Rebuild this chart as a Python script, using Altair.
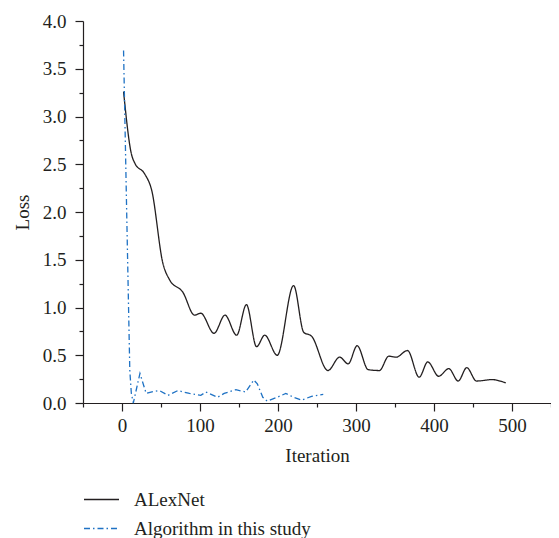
import altair as alt
import pandas as pd

# AlexNet loss curve (smooth)
alex_x = [2, 12, 16.5, 29, 38, 52.5, 61, 78, 93, 101, 118, 132, 147, 159.5, 172.5, 183, 199,
          220, 233, 243, 264, 279, 290, 301.5, 315.5, 330, 342, 351.5, 366, 381, 392, 406,
          419, 431, 442, 454.5, 474.5, 492]
alex_y = [3.26, 2.61, 2.51, 2.40, 2.23, 1.46, 1.29, 1.16, 0.92, 0.94, 0.73, 0.92, 0.71, 1.03,
          0.59, 0.71, 0.50, 1.23, 0.74, 0.70, 0.34, 0.48, 0.41, 0.60, 0.35, 0.34, 0.49, 0.48,
          0.55, 0.27, 0.43, 0.28, 0.36, 0.23, 0.37, 0.23, 0.245, 0.21]

# Proposed algorithm loss curve
algo_x = [2, 6, 10, 12, 14.5, 23, 31, 40, 48, 59, 71.5, 86.5, 101, 107.5, 122.5, 131, 146,
          158.5, 169, 173.5, 180.5, 186, 199, 210, 220, 230.5, 243, 258]
algo_y = [3.69, 2.0, 0.34, 0.10, 0.0, 0.31, 0.10, 0.12, 0.13, 0.08, 0.13, 0.10, 0.08, 0.115,
          0.06, 0.10, 0.14, 0.115, 0.24, 0.20, 0.06, 0.02, 0.06, 0.10, 0.06, 0.03, 0.07, 0.09]

series_names = ["ALexNet", "Algorithm in this study"]
series_colors = ["#231f20", "#1f72c4"]
series_dash = [[1, 0], [6, 3, 1.5, 3]]

y_ticks = [i * 0.25 for i in range(17)]
x_ticks = [-50 + 50 * i for i in range(13)]

df_alex = pd.DataFrame({"Iteration": alex_x, "Loss": alex_y, "series": series_names[0]})
df_algo = pd.DataFrame({"Iteration": algo_x, "Loss": algo_y, "series": series_names[1]})

FONT = "Liberation Serif"

x_enc = alt.X(
    "Iteration:Q",
    scale=alt.Scale(domain=[-50, 550], nice=False, zero=False),
    axis=alt.Axis(
        title="Iteration",
        values=x_ticks,
        labelExpr="datum.value % 100 === 0 ? datum.label : ''",
        tickSize={"condition": {"test": "datum.value % 100 === 0", "value": 8}, "value": 4},
        labelPadding=5,
        titlePadding=11,
        grid=False,
    ),
)
y_enc = alt.Y(
    "Loss:Q",
    scale=alt.Scale(domain=[0, 4], nice=False),
    axis=alt.Axis(
        title="Loss",
        values=y_ticks,
        labelExpr="datum.value % 0.5 === 0 ? format(datum.value, '.1f') : ''",
        tickSize={"condition": {"test": "datum.value % 0.5 === 0", "value": 8}, "value": 4},
        labelPadding=9,
        titlePadding=10,
        grid=False,
    ),
)

color_scale = alt.Scale(domain=series_names, range=series_colors)
dash_scale = alt.Scale(domain=series_names, range=series_dash)

legend = alt.Legend(
    title=None,
    orient="none",
    legendX=0,
    legendY=460,
    symbolType="stroke",
    symbolSize=1225,
    symbolStrokeWidth=1.3,
    labelFont=FONT,
    labelFontSize=19,
    labelColor="#231f20",
    labelOffset=14,
    labelLimit=0,
    rowPadding=-3.5,
)

alex_line = alt.Chart(df_alex).mark_line(interpolate="monotone", strokeWidth=1.3).encode(
    x=x_enc, y=y_enc,
    color=alt.Color("series:N", scale=color_scale, legend=legend),
    strokeDash=alt.StrokeDash("series:N", scale=dash_scale, legend=legend),
)
algo_line = alt.Chart(df_algo).mark_line(interpolate="linear", strokeWidth=1.3).encode(
    x=x_enc, y=y_enc,
    color=alt.Color("series:N", scale=color_scale, legend=legend),
    strokeDash=alt.StrokeDash("series:N", scale=dash_scale, legend=legend),
)

chart = alt.layer(alex_line, algo_line).properties(
    width=468,
    height=382,
    autosize=alt.AutoSizeParams(type="none"),
    padding={"left": 75, "top": 13, "right": 0, "bottom": 135},
).configure_view(stroke=None).configure_axis(
    labelFont=FONT,
    titleFont=FONT,
    labelFontSize=19,
    titleFontSize=19,
    titleFontWeight="normal",
    labelColor="#231f20",
    titleColor="#231f20",
    domainColor="#231f20",
    tickColor="#231f20",
    domainWidth=1.2,
    tickWidth=1.2,
)

chart.save("out.html", embed_options={"renderer": "svg", "actions": False})
